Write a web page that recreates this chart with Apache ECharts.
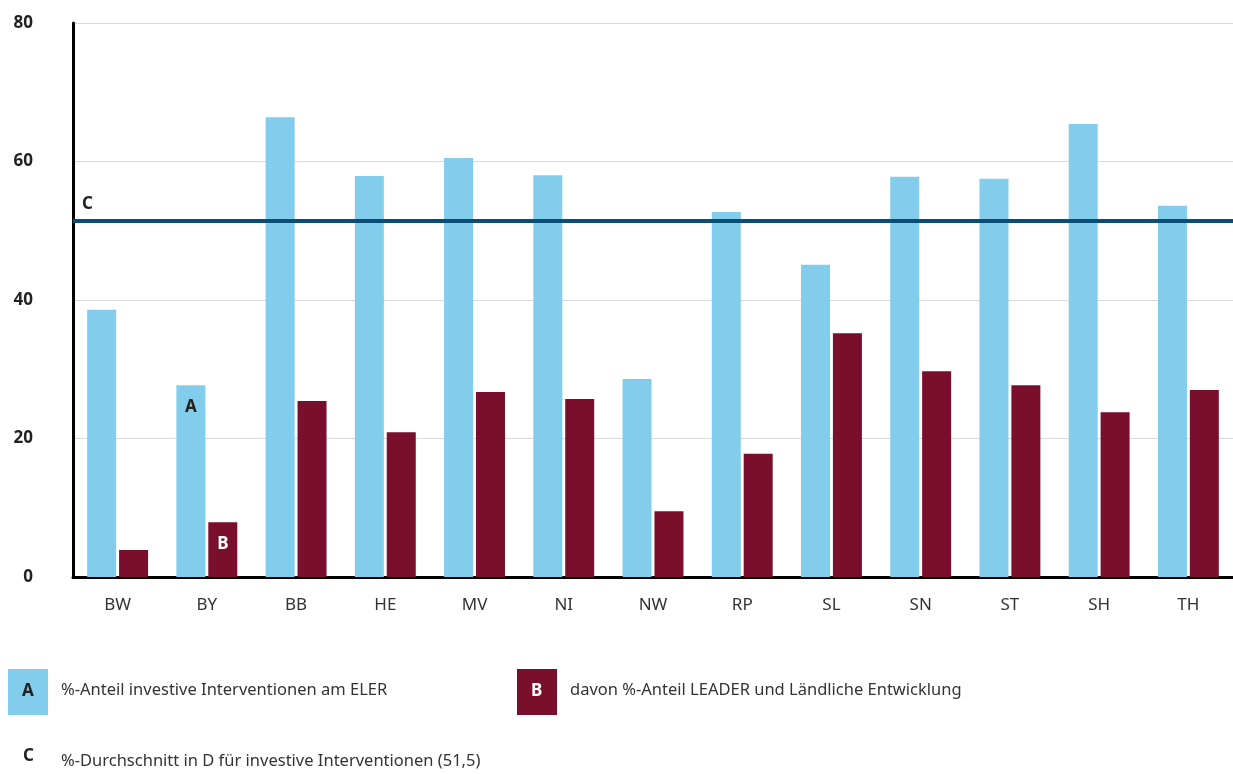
<!DOCTYPE html>
<html>
<head>
<meta charset="utf-8">
<script src="https://cdn.jsdelivr.net/npm/echarts@6/dist/echarts.min.js"></script>
<style>
  html, body { margin: 0; padding: 0; background: #fff; }
  #chart { width: 1233px; height: 774px; }
</style>
</head>
<body>
<div id="chart"></div>
<script>
// Bundeslaender
const categories = ["BW", "BY", "BB", "HE", "MV", "NI", "NW", "RP", "SL", "SN", "ST", "SH", "TH"];
// A: %-Anteil investive Interventionen am ELER
const investiv = [38.6, 27.7, 66.4, 57.9, 60.5, 58.0, 28.6, 52.7, 45.1, 57.8, 57.5, 65.4, 53.6];
// B: davon %-Anteil LEADER und Laendliche Entwicklung
const leader = [3.9, 7.9, 25.4, 20.9, 26.7, 25.7, 9.5, 17.8, 35.2, 29.7, 27.7, 23.8, 27.0];
// C: Durchschnitt
const average = 51.5;
const yTicks = [0, 20, 40, 60, 80];

const font = "Noto Sans";
const blue = "#82cdeb";
const red = "#7a0f2d";

const chart = echarts.init(document.getElementById("chart"));

const option = {
  animation: false,
  textStyle: { fontFamily: font },
  grid: { left: 73, right: -2, top: 23, bottom: 197 },
  xAxis: {
    type: "category",
    data: categories,
    axisLine: { lineStyle: { color: "#000", width: 3 } },
    axisTick: { show: false },
    axisLabel: { color: "#333", fontSize: 17, margin: 20 }
  },
  yAxis: {
    type: "value",
    min: yTicks[0],
    max: yTicks[yTicks.length - 1],
    interval: 20,
    axisLine: { show: true, lineStyle: { color: "#000", width: 3 } },
    axisTick: { show: false },
    splitLine: { lineStyle: { color: "#d9d9d9", width: 1 } },
    axisLabel: { color: "#222", fontSize: 17, fontWeight: "bold", margin: 40 }
  },
  series: [
    {
      name: "A",
      type: "bar",
      data: investiv.map((v, i) => i === 1
        ? { value: v, label: { show: true, formatter: "A", position: "insideTop", distance: 13, color: "#222", fontWeight: "bold", fontSize: 17 } }
        : v),
      itemStyle: { color: blue },
      barWidth: 29,
      barGap: "10%",
      markLine: {
        silent: true,
        symbol: "none",
        data: [{ yAxis: average }],
        lineStyle: { color: "#0a4d75", width: 4, type: "solid" },
        label: {
          show: true,
          position: "insideStartTop",
          formatter: "C",
          color: "#222",
          fontWeight: "bold",
          fontSize: 17,
          distance: [9, 8]
        }
      }
    },
    {
      name: "B",
      type: "bar",
      data: leader.map((v, i) => i === 1
        ? { value: v, label: { show: true, formatter: "B", position: "insideTop", distance: 13, color: "#fff", fontWeight: "bold", fontSize: 17 } }
        : v),
      itemStyle: { color: red },
      barWidth: 29
    }
  ],
  graphic: [
    { type: "rect", left: 8, top: 669, shape: { width: 40, height: 46 }, style: { fill: blue } },
    { type: "text", left: 22, top: 683, style: { text: "A", font: "bold 17px " + font, fill: "#222" } },
    { type: "text", left: 61, top: 682, style: { text: "%-Anteil investive Interventionen am ELER", font: "16.5px " + font, fill: "#333" } },
    { type: "rect", left: 517, top: 669, shape: { width: 40, height: 46 }, style: { fill: red } },
    { type: "text", left: 531, top: 683, style: { text: "B", font: "bold 17px " + font, fill: "#fff" } },
    { type: "text", left: 570, top: 682, style: { text: "davon %-Anteil LEADER und Ländliche Entwicklung", font: "16.5px " + font, fill: "#333" } },
    { type: "text", left: 23, top: 748, style: { text: "C", font: "bold 17px " + font, fill: "#222" } },
    { type: "text", left: 61, top: 753, style: { text: "%-Durchschnitt in D für investive Interventionen (51,5)", font: "16.5px " + font, fill: "#333" } }
  ]
};

chart.setOption(option);
</script>
</body>
</html>
